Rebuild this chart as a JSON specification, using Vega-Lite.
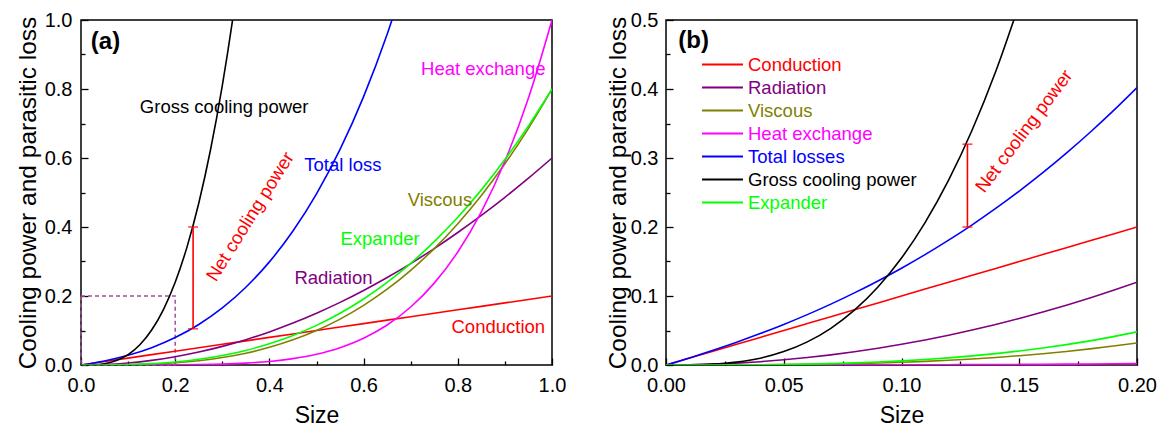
{
  "$schema": "https://vega.github.io/schema/vega-lite/v6.json",
  "padding": {"left": 14, "top": 9, "right": 5, "bottom": 0},
  "bounds": "flush",
  "spacing": 114,
  "config": {
    "font": "Arial",
    "view": {"stroke": "#000000", "strokeWidth": 1.5},
    "axis": {"labelFont": "Arial", "titleFont": "Arial", "labelFontSize": 20, "titleFontSize": 24, "titleFontWeight": "normal", "labelColor": "#000000", "titleColor": "#000000", "tickColor": "#000000", "tickWidth": 1.3, "domain": false, "grid": false, "labelFlush": false, "labelOverlap": false},
    "text": {"font": "Arial"}
  },
  "resolve": {"scale": {"color": "independent"}, "legend": {"color": "independent"}},
  "datasets": {
    "curvesA": [
      {"x": 0, "Conduction": 0, "Radiation": 0, "Viscous": 0, "Heat exchange": 0, "Total losses": 0, "Gross cooling power": 0, "Expander": 0},
      {"x": 0.025, "Gross cooling power": 0.0005},
      {"x": 0.05, "Conduction": 0.01, "Radiation": 0.0015, "Viscous": 0.0001, "Heat exchange": 0, "Total losses": 0.0118, "Gross cooling power": 0.0038, "Expander": 0.0002},
      {"x": 0.075, "Gross cooling power": 0.0127},
      {"x": 0.1, "Conduction": 0.02, "Radiation": 0.006, "Viscous": 0.0008, "Heat exchange": 0.00001, "Total losses": 0.0281, "Gross cooling power": 0.03, "Expander": 0.0013},
      {"x": 0.125, "Gross cooling power": 0.0586},
      {"x": 0.15, "Conduction": 0.03, "Radiation": 0.0135, "Viscous": 0.0027, "Heat exchange": 0.0001, "Total losses": 0.0502, "Gross cooling power": 0.1013, "Expander": 0.0039},
      {"x": 0.175, "Gross cooling power": 0.1608},
      {"x": 0.2, "Conduction": 0.04, "Radiation": 0.024, "Viscous": 0.0064, "Heat exchange": 0.0003, "Total losses": 0.0795, "Gross cooling power": 0.24, "Expander": 0.0088},
      {"x": 0.225, "Gross cooling power": 0.3417},
      {"x": 0.25, "Conduction": 0.05, "Radiation": 0.0375, "Viscous": 0.0125, "Heat exchange": 0.001, "Total losses": 0.1175, "Gross cooling power": 0.4688, "Expander": 0.0165},
      {"x": 0.275, "Gross cooling power": 0.6239},
      {"x": 0.3, "Conduction": 0.06, "Radiation": 0.054, "Viscous": 0.0216, "Heat exchange": 0.0024, "Total losses": 0.1655, "Gross cooling power": 0.81, "Expander": 0.0275},
      {"x": 0.325, "Gross cooling power": 1.0298},
      {"x": 0.35, "Conduction": 0.07, "Radiation": 0.0735, "Viscous": 0.0343, "Heat exchange": 0.0053, "Total losses": 0.2254, "Gross cooling power": 1.2863, "Expander": 0.0423},
      {"x": 0.4, "Conduction": 0.08, "Radiation": 0.096, "Viscous": 0.0512, "Heat exchange": 0.0102, "Total losses": 0.2989, "Expander": 0.0615},
      {"x": 0.45, "Conduction": 0.09, "Radiation": 0.1215, "Viscous": 0.0729, "Heat exchange": 0.0185, "Total losses": 0.3884, "Expander": 0.0855},
      {"x": 0.5, "Conduction": 0.1, "Radiation": 0.15, "Viscous": 0.1, "Heat exchange": 0.0313, "Total losses": 0.4962, "Expander": 0.1149},
      {"x": 0.55, "Conduction": 0.11, "Radiation": 0.1815, "Viscous": 0.1331, "Heat exchange": 0.0503, "Total losses": 0.6249, "Expander": 0.15},
      {"x": 0.6, "Conduction": 0.12, "Radiation": 0.216, "Viscous": 0.1728, "Heat exchange": 0.0778, "Total losses": 0.778, "Expander": 0.1914},
      {"x": 0.65, "Conduction": 0.13, "Radiation": 0.2535, "Viscous": 0.2197, "Heat exchange": 0.116, "Total losses": 0.9587, "Expander": 0.2395},
      {"x": 0.7, "Conduction": 0.14, "Radiation": 0.294, "Viscous": 0.2744, "Heat exchange": 0.1681, "Total losses": 1.1712, "Expander": 0.2947},
      {"x": 0.75, "Conduction": 0.15, "Radiation": 0.3375, "Viscous": 0.3375, "Heat exchange": 0.2373, "Expander": 0.3575},
      {"x": 0.8, "Conduction": 0.16, "Radiation": 0.384, "Viscous": 0.4096, "Heat exchange": 0.3277, "Expander": 0.4283},
      {"x": 0.85, "Conduction": 0.17, "Radiation": 0.4335, "Viscous": 0.4913, "Heat exchange": 0.4437, "Expander": 0.5076},
      {"x": 0.9, "Conduction": 0.18, "Radiation": 0.486, "Viscous": 0.5832, "Heat exchange": 0.5905, "Expander": 0.5956},
      {"x": 0.95, "Conduction": 0.19, "Radiation": 0.5415, "Viscous": 0.6859, "Heat exchange": 0.7738, "Expander": 0.693},
      {"x": 1, "Conduction": 0.2, "Radiation": 0.6, "Viscous": 0.8, "Heat exchange": 1, "Expander": 0.8}
    ],
    "curvesB": [
      {"x": 0, "Conduction": 0, "Radiation": 0, "Viscous": 0, "Heat exchange": 0, "Total losses": 0, "Gross cooling power": 0, "Expander": 0},
      {"x": 0.01, "Conduction": 0.01, "Radiation": 0.0003, "Viscous": 0.000004, "Heat exchange": 0, "Total losses": 0.0103, "Gross cooling power": 0.0002, "Expander": 0.000006},
      {"x": 0.02, "Conduction": 0.02, "Radiation": 0.0012, "Viscous": 0.00003, "Heat exchange": 0.000002, "Total losses": 0.0213, "Gross cooling power": 0.0012, "Expander": 0.00005},
      {"x": 0.03, "Conduction": 0.03, "Radiation": 0.0027, "Viscous": 0.0001, "Heat exchange": 0.000007, "Total losses": 0.033, "Gross cooling power": 0.0042, "Expander": 0.00016},
      {"x": 0.04, "Conduction": 0.04, "Radiation": 0.0048, "Viscous": 0.00026, "Heat exchange": 0.000016, "Total losses": 0.0455, "Gross cooling power": 0.0099, "Expander": 0.00038},
      {"x": 0.05, "Conduction": 0.05, "Radiation": 0.0075, "Viscous": 0.0005, "Heat exchange": 0.00003, "Total losses": 0.0588, "Gross cooling power": 0.0194, "Expander": 0.00075},
      {"x": 0.06, "Conduction": 0.06, "Radiation": 0.0108, "Viscous": 0.00086, "Heat exchange": 0.00005, "Total losses": 0.073, "Gross cooling power": 0.0335, "Expander": 0.0013},
      {"x": 0.07, "Conduction": 0.07, "Radiation": 0.0147, "Viscous": 0.00137, "Heat exchange": 0.00009, "Total losses": 0.0882, "Gross cooling power": 0.0532, "Expander": 0.00206},
      {"x": 0.08, "Conduction": 0.08, "Radiation": 0.0192, "Viscous": 0.00205, "Heat exchange": 0.00013, "Total losses": 0.1045, "Gross cooling power": 0.0794, "Expander": 0.00307},
      {"x": 0.09, "Conduction": 0.09, "Radiation": 0.0243, "Viscous": 0.00292, "Heat exchange": 0.00018, "Total losses": 0.1218, "Gross cooling power": 0.113, "Expander": 0.00437},
      {"x": 0.1, "Conduction": 0.1, "Radiation": 0.03, "Viscous": 0.004, "Heat exchange": 0.00025, "Total losses": 0.1403, "Gross cooling power": 0.155, "Expander": 0.006},
      {"x": 0.11, "Conduction": 0.11, "Radiation": 0.0363, "Viscous": 0.00532, "Heat exchange": 0.00033, "Total losses": 0.1599, "Gross cooling power": 0.2063, "Expander": 0.00799},
      {"x": 0.12, "Conduction": 0.12, "Radiation": 0.0432, "Viscous": 0.00691, "Heat exchange": 0.00043, "Total losses": 0.1809, "Gross cooling power": 0.2678, "Expander": 0.01037},
      {"x": 0.13, "Conduction": 0.13, "Radiation": 0.0507, "Viscous": 0.00879, "Heat exchange": 0.00055, "Total losses": 0.2032, "Gross cooling power": 0.3405, "Expander": 0.01318},
      {"x": 0.14, "Conduction": 0.14, "Radiation": 0.0588, "Viscous": 0.01098, "Heat exchange": 0.00069, "Total losses": 0.2269, "Gross cooling power": 0.4253, "Expander": 0.01646},
      {"x": 0.15, "Conduction": 0.15, "Radiation": 0.0675, "Viscous": 0.0135, "Heat exchange": 0.00084, "Total losses": 0.2521, "Gross cooling power": 0.5231, "Expander": 0.02025},
      {"x": 0.16, "Conduction": 0.16, "Radiation": 0.0768, "Viscous": 0.01638, "Heat exchange": 0.00102, "Total losses": 0.2788, "Expander": 0.02458},
      {"x": 0.17, "Conduction": 0.17, "Radiation": 0.0867, "Viscous": 0.01965, "Heat exchange": 0.00123, "Total losses": 0.3071, "Expander": 0.02948},
      {"x": 0.18, "Conduction": 0.18, "Radiation": 0.0972, "Viscous": 0.02333, "Heat exchange": 0.00146, "Total losses": 0.337, "Expander": 0.03499},
      {"x": 0.19, "Conduction": 0.19, "Radiation": 0.1083, "Viscous": 0.02744, "Heat exchange": 0.00172, "Total losses": 0.3686, "Expander": 0.04115},
      {"x": 0.2, "Conduction": 0.2, "Radiation": 0.12, "Viscous": 0.032, "Heat exchange": 0.002, "Total losses": 0.402, "Expander": 0.048}
    ],
    "labelsA": [
      {"label": "Gross cooling power", "series": "Gross cooling power", "x": 0.304, "y": 0.748},
      {"label": "Total loss", "series": "Total losses", "x": 0.556, "y": 0.579},
      {"label": "Heat exchange", "series": "Heat exchange", "x": 0.854, "y": 0.859},
      {"label": "Viscous", "series": "Viscous", "x": 0.762, "y": 0.477},
      {"label": "Expander", "series": "Expander", "x": 0.635, "y": 0.366},
      {"label": "Radiation", "series": "Radiation", "x": 0.536, "y": 0.251},
      {"label": "Conduction", "series": "Conduction", "x": 0.886, "y": 0.11}
    ],
    "panelA": [{"label": "(a)", "x": 0.052, "y": 0.936}],
    "panelB": [{"label": "(b)", "x": 0.0117, "y": 0.47}],
    "netA": [{"x": 0.238, "y": 0.105}, {"x": 0.238, "y": 0.4}],
    "netB": [{"x": 0.128, "y": 0.2}, {"x": 0.128, "y": 0.32}],
    "netLabelA": [{"label": "Net cooling power", "x": 0.359, "y": 0.43}],
    "netLabelB": [{"label": "Net cooling power", "x": 0.152, "y": 0.339}],
    "zoomBox": [{"x": 0, "y": 0, "x2": 0.2, "y2": 0.2}]
  },
  "hconcat": [
    {
      "width": 471,
      "height": 345,
      "encoding": {
        "x": {"field": "x", "type": "quantitative", "scale": {"domain": [0, 1], "nice": false, "zero": false},
          "axis": {"title": "Size", "titleFontSize": 23, "values": [0, 0.1, 0.2, 0.3, 0.4, 0.5, 0.6, 0.7, 0.8, 0.9, 1.0],
            "labelExpr": "round(datum.value*10) % 2 == 0 ? format(datum.value, '.1f') : ''",
            "tickSize": {"condition": {"test": "round(datum.value*10) % 2 == 0", "value": -7}, "value": -4},
            "labelPadding": 17, "titleY": 57, "titleBaseline": "alphabetic"}},
        "y": {"field": "y", "type": "quantitative", "scale": {"domain": [0, 1], "nice": false, "zero": false},
          "axis": {"title": "Cooling power and parasitic loss", "titleFontSize": 24.5, "values": [0, 0.1, 0.2, 0.3, 0.4, 0.5, 0.6, 0.7, 0.8, 0.9, 1.0],
            "labelExpr": "round(datum.value*10) % 2 == 0 ? format(datum.value, '.1f') : ''",
            "tickSize": {"condition": {"test": "round(datum.value*10) % 2 == 0", "value": -7}, "value": -4},
            "labelPadding": 16, "titleX": -46, "titleY": 172.5, "titleBaseline": "alphabetic", "titleAlign": "center"}}
      },
      "layer": [
        {
          "data": {"name": "zoomBox"},
          "mark": {"type": "rect", "fill": null, "fillOpacity": 0, "stroke": "#a0509b", "strokeWidth": 1.5, "strokeDash": [4, 3]},
          "encoding": {"x2": {"field": "x2"}, "y2": {"field": "y2"}}
        },
        {
          "data": {"name": "curvesA"},
          "transform": [
            {"fold": ["Conduction", "Radiation", "Viscous", "Heat exchange", "Total losses", "Gross cooling power", "Expander"], "as": ["series", "y"]},
            {"filter": "isValid(datum.y)"}
          ],
          "mark": {"type": "line", "interpolate": "monotone", "strokeWidth": 1.6, "clip": true},
          "encoding": {
            "color": {"field": "series", "type": "nominal", "legend": null,
              "scale": {"domain": ["Conduction", "Radiation", "Viscous", "Heat exchange", "Total losses", "Gross cooling power", "Expander"],
                "range": ["#ff0000", "#800080", "#808000", "#ff00ff", "#0000ff", "#000000", "#00ff00"]}}
          }
        },
        {
          "data": {"name": "labelsA"},
          "mark": {"type": "text", "fontSize": 18.5, "align": "center", "baseline": "middle"},
          "encoding": {"text": {"field": "label"}, "color": {"field": "series", "type": "nominal", "legend": null}}
        },
        {
          "data": {"name": "panelA"},
          "mark": {"type": "text", "fontSize": 24, "fontWeight": "bold", "align": "center", "baseline": "middle", "color": "#000000"},
          "encoding": {"text": {"field": "label"}}
        },
        {
          "data": {"name": "netA"},
          "mark": {"type": "line", "color": "#ff0000", "strokeWidth": 1.6},
          "encoding": {"order": {"field": "y"}}
        },
        {
          "data": {"name": "netA"},
          "mark": {"type": "tick", "orient": "horizontal", "color": "#ff0000", "size": 10, "thickness": 1.6}
        },
        {
          "data": {"name": "netLabelA"},
          "mark": {"type": "text", "fontSize": 18.5, "align": "center", "baseline": "middle", "angle": 302, "color": "#ff0000"},
          "encoding": {"text": {"field": "label"}}
        }
      ]
    },
    {
      "width": 471,
      "height": 345,
      "encoding": {
        "x": {"field": "x", "type": "quantitative", "scale": {"domain": [0, 0.2], "nice": false, "zero": false},
          "axis": {"title": "Size", "titleFontSize": 23, "values": [0, 0.025, 0.05, 0.075, 0.1, 0.125, 0.15, 0.175, 0.2],
            "labelExpr": "round(datum.value*40) % 2 == 0 ? format(datum.value, '.2f') : ''",
            "tickSize": {"condition": {"test": "round(datum.value*40) % 2 == 0", "value": -7}, "value": -4},
            "labelPadding": 17, "titleY": 57, "titleBaseline": "alphabetic"}},
        "y": {"field": "y", "type": "quantitative", "scale": {"domain": [0, 0.5], "nice": false, "zero": false},
          "axis": {"title": "Cooling power and parasitic loss", "titleFontSize": 24.5, "values": [0, 0.05, 0.1, 0.15, 0.2, 0.25, 0.3, 0.35, 0.4, 0.45, 0.5],
            "labelExpr": "round(datum.value*20) % 2 == 0 ? format(datum.value, '.1f') : ''",
            "tickSize": {"condition": {"test": "round(datum.value*20) % 2 == 0", "value": -7}, "value": -4},
            "labelPadding": 15, "titleX": -41, "titleY": 172.5, "titleBaseline": "alphabetic", "titleAlign": "center"}}
      },
      "layer": [
        {
          "data": {"name": "curvesB"},
          "transform": [
            {"fold": ["Conduction", "Radiation", "Viscous", "Heat exchange", "Total losses", "Gross cooling power", "Expander"], "as": ["series", "y"]},
            {"filter": "isValid(datum.y)"}
          ],
          "mark": {"type": "line", "interpolate": "monotone", "strokeWidth": 1.6, "clip": true},
          "encoding": {
            "color": {"field": "series", "type": "nominal",
              "scale": {"domain": ["Conduction", "Radiation", "Viscous", "Heat exchange", "Total losses", "Gross cooling power", "Expander"],
                "range": ["#ff0000", "#800080", "#808000", "#ff00ff", "#0000ff", "#000000", "#00ff00"]},
              "legend": {"title": null, "orient": "none", "legendX": 45, "legendY": 33, "padding": 0,
                "symbolType": "M-2,0H2", "symbolSize": 420, "symbolStrokeWidth": 2,
                "labelFont": "Arial", "labelFontSize": 18.5, "labelOffset": 14, "labelLimit": 300, "rowPadding": 2,
                "labelColor": {"expr": "datum.value == 'Conduction' ? '#ff0000' : datum.value == 'Radiation' ? '#800080' : datum.value == 'Viscous' ? '#808000' : datum.value == 'Heat exchange' ? '#ff00ff' : datum.value == 'Total losses' ? '#0000ff' : datum.value == 'Expander' ? '#00ff00' : '#000000'"}}}
          }
        },
        {
          "data": {"name": "panelB"},
          "mark": {"type": "text", "fontSize": 24, "fontWeight": "bold", "align": "center", "baseline": "middle", "color": "#000000"},
          "encoding": {"text": {"field": "label"}}
        },
        {
          "data": {"name": "netB"},
          "mark": {"type": "line", "color": "#ff0000", "strokeWidth": 1.6},
          "encoding": {"order": {"field": "y"}}
        },
        {
          "data": {"name": "netB"},
          "mark": {"type": "tick", "orient": "horizontal", "color": "#ff0000", "size": 10, "thickness": 1.6}
        },
        {
          "data": {"name": "netLabelB"},
          "mark": {"type": "text", "fontSize": 18.5, "align": "center", "baseline": "middle", "angle": 307, "color": "#ff0000"},
          "encoding": {"text": {"field": "label"}}
        }
      ]
    }
  ]
}
